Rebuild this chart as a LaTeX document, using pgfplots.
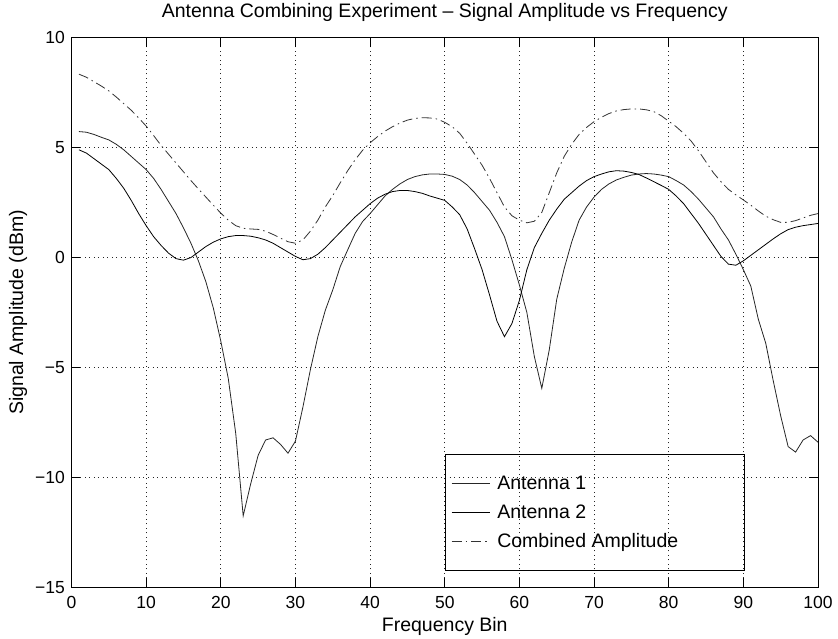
\documentclass[border=0pt]{standalone}
\usepackage{fontspec}
\setmainfont{Liberation Sans}
\usepackage{pgfplots}
\pgfplotsset{compat=1.18}

\newcommand{\bigfont}{\fontsize{19.5}{23}\selectfont}
\newcommand{\tickfont}{\fontsize{17.5}{20}\selectfont}
% legend text padded to a fixed width so the box spans the lower right area
\newcommand{\legtext}[1]{\makebox[241pt][l]{\rule[-2pt]{0pt}{16pt}#1}}

\begin{document}
\begin{tikzpicture}
\begin{axis}[
  scale only axis, width=746.5pt, height=549.6pt,
  xmin=0, xmax=100, ymin=-15, ymax=10,
  xtick={0,10,...,100}, ytick={-15,-10,...,10},
  yticklabels={−15,−10,−5,0,5,10},
  /pgf/number format/assume math mode=true,
  tick align=inside, major tick length=9pt,
  tick style={black, line width=0.8pt},
  axis line style={black, line width=0.8pt},
  grid=major,
  major grid style={black!85, line width=0.8pt, dash pattern=on 1pt off 3.5pt},
  ticklabel style={font=\tickfont},
  xticklabel style={inner sep=0pt, anchor=north, yshift=-9pt},
  yticklabel style={inner sep=0pt, anchor=east, xshift=-6.5pt},
  title={Antenna Combining Experiment – Signal Amplitude vs Frequency},
  title style={at={(axis description cs:0.5,1.0262)}, anchor=base, font=\bigfont, inner sep=0pt},
  xlabel={Frequency Bin},
  xlabel style={at={(axis description cs:0.5,-0.0813)}, anchor=base, font=\bigfont, inner sep=0pt},
  ylabel={Signal Amplitude (dBm)},
  ylabel style={at={(axis description cs:-0.0717,0.5)}, rotate=0, anchor=center, font=\bigfont, inner sep=0pt},
  legend style={at={(axis cs:50,-14.24)}, anchor=south west, draw=black, line width=0.8pt,
    fill=none, inner xsep=6pt, inner ysep=21pt, row sep=13pt, font=\bigfont,
    nodes={inner sep=0pt}},
  legend cell align=left,
  legend image code/.code={
    \path[draw=none, fill=none] (0pt,-8pt) rectangle (45.7pt,8pt);
    \draw[#1] (0pt,0pt) -- (38pt,0pt);
  },
]
% Antenna 1
\addplot[black!85, line width=0.8pt] coordinates {
(1,5.73) (2,5.70) (3,5.60) (4,5.47) (5,5.35) (6,5.15) (7,4.90) (8,4.60) (9,4.30) (10,4.00)
(11,3.60) (12,3.10) (13,2.55) (14,2.00) (15,1.35) (16,0.65) (17,-0.15) (18,-1.10) (19,-2.30) (20,-3.80)
(21,-5.50) (22,-8.00) (23,-11.75) (24,-10.30) (25,-9.00) (26,-8.30) (27,-8.20) (28,-8.50) (29,-8.90) (30,-8.35)
(31,-6.80) (32,-5.10) (33,-3.60) (34,-2.40) (35,-1.47) (36,-0.41) (37,0.35) (38,1.10) (39,1.64) (40,2.00)
(41,2.40) (42,2.80) (43,3.10) (44,3.35) (45,3.55) (46,3.68) (47,3.76) (48,3.80) (49,3.80) (50,3.78)
(51,3.70) (52,3.55) (53,3.30) (54,2.95) (55,2.55) (56,2.15) (57,1.60) (58,0.95) (59,-0.10) (60,-1.25)
(61,-2.50) (62,-4.50) (63,-5.95) (64,-4.20) (65,-1.90) (66,-0.50) (67,0.70) (68,1.70) (69,2.30) (70,2.75)
(71,3.10) (72,3.35) (73,3.53) (74,3.65) (75,3.75) (76,3.80) (77,3.82) (78,3.80) (79,3.75) (80,3.68)
(81,3.50) (82,3.30) (83,3.00) (84,2.65) (85,2.25) (86,1.85) (87,1.30) (88,0.80) (89,0.15) (90,-0.55)
(91,-1.30) (92,-2.80) (93,-3.90) (94,-5.60) (95,-7.20) (96,-8.60) (97,-8.85) (98,-8.30) (99,-8.10) (100,-8.40)
};
\addlegendentry{\legtext{Antenna 1}}
% Antenna 2
\addplot[black, line width=0.8pt] coordinates {
(1,4.90) (2,4.75) (3,4.50) (4,4.25) (5,4.00) (6,3.60) (7,3.15) (8,2.60) (9,2.00) (10,1.45)
(11,0.95) (12,0.55) (13,0.20) (14,-0.05) (15,-0.12) (16,0.00) (17,0.25) (18,0.50) (19,0.70) (20,0.85)
(21,0.95) (22,1.00) (23,1.00) (24,0.97) (25,0.90) (26,0.80) (27,0.65) (28,0.45) (29,0.25) (30,0.05)
(31,-0.10) (32,-0.05) (33,0.15) (34,0.45) (35,0.80) (36,1.15) (37,1.50) (38,1.85) (39,2.15) (40,2.45)
(41,2.70) (42,2.88) (43,3.00) (44,3.05) (45,3.05) (46,3.00) (47,2.92) (48,2.80) (49,2.70) (50,2.60)
(51,2.30) (52,1.95) (53,1.30) (54,0.40) (55,-0.55) (56,-1.70) (57,-2.90) (58,-3.60) (59,-3.00) (60,-1.95)
(61,-0.55) (62,0.45) (63,1.10) (64,1.70) (65,2.20) (66,2.65) (67,2.95) (68,3.25) (69,3.50) (70,3.68)
(71,3.80) (72,3.90) (73,3.95) (74,3.93) (75,3.87) (76,3.78) (77,3.62) (78,3.45) (79,3.28) (80,3.10)
(81,2.80) (82,2.45) (83,2.00) (84,1.55) (85,1.05) (86,0.55) (87,0.05) (88,-0.30) (89,-0.35) (90,-0.15)
(91,0.10) (92,0.35) (93,0.60) (94,0.85) (95,1.08) (96,1.27) (97,1.38) (98,1.45) (99,1.50) (100,1.55)
};
\addlegendentry{\legtext{Antenna 2}}
% Combined amplitude
\addplot[black!80, line width=0.8pt, dash pattern=on 10pt off 4pt on 1.5pt off 4pt] coordinates {
(1,8.34) (2,8.20) (3,8.00) (4,7.80) (5,7.58) (6,7.30) (7,7.00) (8,6.70) (9,6.35) (10,5.98)
(11,5.55) (12,5.10) (13,4.70) (14,4.30) (15,3.90) (16,3.50) (17,3.12) (18,2.75) (19,2.38) (20,2.02)
(21,1.70) (22,1.45) (23,1.33) (24,1.30) (25,1.28) (26,1.20) (27,1.05) (28,0.88) (29,0.72) (30,0.65)
(31,0.80) (32,1.20) (33,1.70) (34,2.30) (35,2.82) (36,3.40) (37,3.95) (38,4.45) (39,4.88) (40,5.22)
(41,5.50) (42,5.75) (43,5.95) (44,6.12) (45,6.25) (46,6.33) (47,6.36) (48,6.35) (49,6.30) (50,6.15)
(51,5.95) (52,5.65) (53,5.20) (54,4.70) (55,4.20) (56,3.60) (57,2.95) (58,2.30) (59,1.90) (60,1.70)
(61,1.58) (62,1.65) (63,2.05) (64,2.95) (65,3.85) (66,4.60) (67,5.15) (68,5.60) (69,5.92) (70,6.18)
(71,6.38) (72,6.55) (73,6.67) (74,6.73) (75,6.76) (76,6.76) (77,6.72) (78,6.64) (79,6.45) (80,6.20)
(81,5.95) (82,5.65) (83,5.30) (84,4.85) (85,4.35) (86,3.85) (87,3.45) (88,3.10) (89,2.85) (90,2.62)
(91,2.38) (92,2.12) (93,1.88) (94,1.72) (95,1.60) (96,1.60) (97,1.68) (98,1.80) (99,1.92) (100,2.00)
};
\addlegendentry{\legtext{Combined Amplitude}}
\end{axis}
\pgfresetboundingbox
\useasboundingbox (-71.5pt,-51.7pt) rectangle (766.5pt,587.3pt);
\end{tikzpicture}
\end{document}
